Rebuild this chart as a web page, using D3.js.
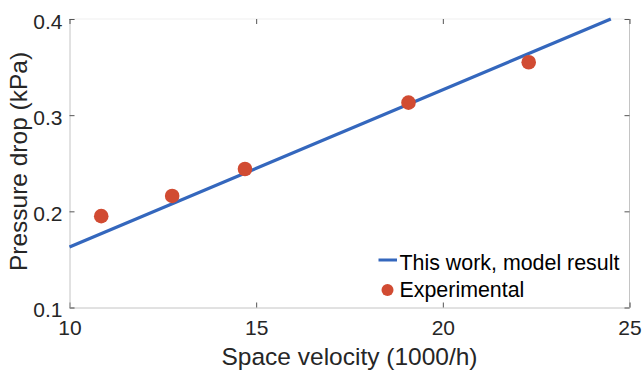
<!DOCTYPE html>
<html><head><meta charset="utf-8">
<script src="https://cdn.jsdelivr.net/npm/d3@7/dist/d3.min.js"></script>
<style>body{margin:0;background:#fff}svg{display:block}text{font-family:"Liberation Sans",Arial,sans-serif}</style>
</head><body>
<svg id="c" width="642" height="370"></svg>
<script>
const modelX = [10, 24.5];
const modelY = [0.163, 0.400];
const expX = [10.85, 12.75, 14.7, 19.08, 22.3];
const expY = [0.195, 0.216, 0.244, 0.313, 0.355];
const xTicks = [10, 15, 20, 25];
const yTicks = [0.1, 0.2, 0.3, 0.4];
const legendLabels = ["This work, model result", "Experimental"];

const svg = d3.select("#c");
const L = 69.5, R = 629.5, T = 19, B = 307.5;
const x = d3.scaleLinear().domain([10, 25]).range([L, R]);
const y = d3.scaleLinear().domain([0.1, 0.4]).range([B, T]);
const FF = '"Liberation Sans",Arial,sans-serif';

// frame
svg.append("line").attr("x1", L).attr("x2", R).attr("y1", T).attr("y2", T).attr("stroke", "#efefef");
svg.append("line").attr("x1", R).attr("x2", R).attr("y1", T).attr("y2", B).attr("stroke", "#c4c4c4");

const xAxis = svg.append("g").attr("transform", `translate(0,${B})`)
  .call(d3.axisBottom(x).tickValues(xTicks).tickSize(-5).tickPadding(13).tickFormat(d3.format("d")));
const yAxis = svg.append("g").attr("transform", `translate(${L},0)`)
  .call(d3.axisLeft(y).tickValues(yTicks).tickSize(-5).tickPadding(7).tickFormat(d3.format(".1f")));
[xAxis, yAxis].forEach(g => {
  g.select(".domain").attr("stroke", "#c4c4c4");
  g.selectAll(".tick line").attr("stroke", "#555");
  g.selectAll(".tick text").attr("fill", "#262626").style("font-size", "21px").style("font-family", FF);
});
yAxis.selectAll(".tick text").attr("dy", "0.43em");
// mirror ticks
svg.append("g").attr("transform", `translate(0,${T})`)
  .call(d3.axisTop(x).tickValues(xTicks).tickSize(-5).tickFormat(""))
  .call(g => { g.select(".domain").remove(); g.selectAll(".tick line").attr("stroke", "#555"); });
svg.append("g").attr("transform", `translate(${R},0)`)
  .call(d3.axisRight(y).tickValues(yTicks).tickSize(-5).tickFormat(""))
  .call(g => { g.select(".domain").remove(); g.selectAll(".tick line").attr("stroke", "#555"); });

// model line
const lineData = modelX.map((d, i) => [d, modelY[i]]);
svg.append("path").datum(lineData)
  .attr("d", d3.line().x(d => x(d[0])).y(d => y(d[1])))
  .attr("fill", "none").attr("stroke", "#3467bd").attr("stroke-width", 3.2);

// points
svg.selectAll("circle.exp").data(expX.map((d, i) => [d, expY[i]])).enter()
  .append("circle").attr("class", "exp")
  .attr("cx", d => x(d[0])).attr("cy", d => y(d[1])).attr("r", 7.3)
  .attr("fill", "#d14b32");

// axis labels
svg.append("text").attr("x", (L + R) / 2).attr("y", 365).attr("text-anchor", "middle")
  .attr("fill", "#262626").style("font-size", "24.5px").text("Space velocity (1000/h)");
svg.append("text").attr("transform", `translate(27,161.5) rotate(-90)`).attr("text-anchor", "middle")
  .attr("fill", "#262626").style("font-size", "24.5px").text("Pressure drop (kPa)");

// legend
const lg = svg.append("g");
lg.append("rect").attr("x", 374).attr("y", 247).attr("width", 253).attr("height", 55).attr("fill", "#fff");
lg.append("line").attr("x1", 378.5).attr("x2", 397).attr("y1", 260).attr("y2", 260).attr("stroke", "#3467bd").attr("stroke-width", 3);
lg.append("circle").attr("cx", 387.5).attr("cy", 290).attr("r", 6).attr("fill", "#d14b32");
lg.append("text").attr("x", 399.5).attr("y", 270).attr("fill", "#000").style("font-size", "21.4px").text(legendLabels[0]);
lg.append("text").attr("x", 399.5).attr("y", 297).attr("fill", "#000").style("font-size", "21.4px").text(legendLabels[1]);
</script>
</body></html>
